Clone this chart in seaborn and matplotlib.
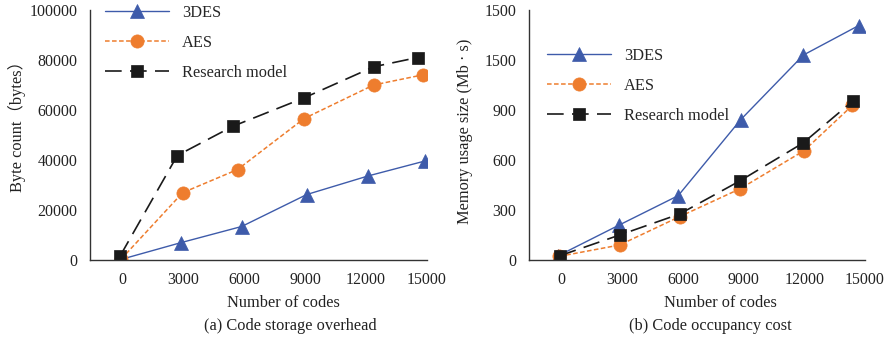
import matplotlib
matplotlib.use("Agg")
import matplotlib.pyplot as plt
import seaborn as sns

# ---- data ----
series_names = ["3DES", "AES", "Research model"]

# (a) Code storage overhead
a_3des_x = [0, 2860, 5870, 9080, 12090, 14900]
a_3des_y = [400, 6900, 13400, 26200, 33600, 39600]
a_aes_x = [-60, 2960, 5670, 8950, 12370, 14820]
a_aes_y = [400, 26900, 36200, 56600, 70000, 74100]
a_res_x = [-110, 2700, 5440, 8930, 12380, 14540]
a_res_y = [1700, 41800, 53500, 64800, 77300, 81000]

# (b) Code occupancy cost
b_3des_x = [-150, 2860, 5770, 8860, 11960, 14680]
b_3des_y = [26, 210, 386, 842, 1230, 1406]
b_aes_x = [-100, 2880, 5840, 8840, 11990, 14380]
b_aes_y = [22, 90, 260, 428, 656, 928]
b_res_x = [-70, 2880, 5840, 8840, 11940, 14420]
b_res_y = [26, 150, 276, 476, 702, 956]

x_ticks = [0, 3000, 6000, 9000, 12000, 15000]
x_tick_labels = ["0", "3000", "6000", "9000", "12000", "15000"]
a_y_ticks = [0, 20000, 40000, 60000, 80000, 100000]
a_y_tick_labels = ["0", "20000", "40000", "60000", "80000", "100000"]
b_y_ticks = [0, 300, 600, 900, 1200, 1500]
b_y_tick_labels = ["0", "300", "600", "900", "1500", "1500"]

sns.set_theme(style="white")
plt.rcParams["font.family"] = ["Liberation Serif", "Noto Sans CJK SC"]

FS = 11.8
TFS = 11.4
TXT = "#222222"

fig = plt.figure(figsize=(8.86, 3.41), dpi=100)
axA = fig.add_axes([90/886, 1-260/341, (427-90)/886, 250/341])
axB = fig.add_axes([529/886, 1-260/341, (865-529)/886, 250/341])

BLUE = "#3E5BAA"
ORANGE = "#EE7D2E"
BLACK = "#1a1a1a"


def draw(ax, x1, y1, x2, y2, x3, y3):
    sns.lineplot(x=x1, y=y1, ax=ax, color=BLUE, marker="^", markersize=9.5,
                 linewidth=1.0, markeredgewidth=0.5, markeredgecolor=BLUE,
                 label=series_names[0], sort=False, estimator=None)
    sns.lineplot(x=x2, y=y2, ax=ax, color=ORANGE, marker="o", markersize=9.5,
                 linewidth=1.1, markeredgewidth=0.5, markeredgecolor=ORANGE,
                 label=series_names[1], sort=False, estimator=None)
    sns.lineplot(x=x3, y=y3, ax=ax, color=BLACK, marker="s", markersize=9,
                 linewidth=1.2, markeredgewidth=0.5, markeredgecolor=BLACK,
                 label=series_names[2], sort=False, estimator=None)
    lines = ax.get_lines()
    lines[1].set_dashes([3, 1.6])
    lines[2].set_dashes([10, 5])


draw(axA, a_3des_x, a_3des_y, a_aes_x, a_aes_y, a_res_x, a_res_y)
draw(axB, b_3des_x, b_3des_y, b_aes_x, b_aes_y, b_res_x, b_res_y)

for ax, yt, ytl, ymax in [(axA, a_y_ticks, a_y_tick_labels, 100000),
                          (axB, b_y_ticks, b_y_tick_labels, 1500)]:
    ax.set_xlim(-1600, 15000)
    ax.set_ylim(0, ymax)
    ax.set_xticks(x_ticks)
    ax.set_xticklabels(x_tick_labels)
    ax.set_yticks(yt)
    ax.set_yticklabels(ytl)
    ax.tick_params(axis="both", length=0, labelsize=TFS, colors=TXT, pad=9)
    for s in ["top", "right"]:
        ax.spines[s].set_visible(False)
    for s in ["left", "bottom"]:
        ax.spines[s].set_color("#333333")
        ax.spines[s].set_linewidth(1.0)
    ax.set_xlabel("")
    ax.set_ylabel("")
    ax.grid(False)

axA.legend(loc="upper left", bbox_to_anchor=(0.045, 1.02), frameon=False,
           handlelength=3.9, handletextpad=0.8, labelspacing=0.85,
           borderaxespad=0, borderpad=0, fontsize=FS)
axB.legend(loc="upper left", bbox_to_anchor=(0.054, 0.848), frameon=False,
           handlelength=3.9, handletextpad=0.8, labelspacing=0.85,
           borderaxespad=0, borderpad=0, fontsize=FS)

fig.text(16.7/886, 1-122/341, "Byte count（bytes）", rotation=90, ha="center",
         va="center", fontsize=FS, color=TXT)
fig.text(464.7/886, 1-131/341, "Memory usage size (Mb · s)", rotation=90,
         ha="center", va="center", fontsize=FS, color=TXT)
fig.text(283/886, 1-303/341, "Number of codes", ha="center", va="center",
         fontsize=FS, color=TXT)
fig.text(290/886, 1-326/341, "(a) Code storage overhead", ha="center",
         va="center", fontsize=FS, color=TXT)
fig.text(720/886, 1-303/341, "Number of codes", ha="center", va="center",
         fontsize=FS, color=TXT)
fig.text(710/886, 1-326/341, "(b) Code occupancy cost", ha="center",
         va="center", fontsize=FS, color=TXT)

fig.savefig("out.png", dpi=100)
